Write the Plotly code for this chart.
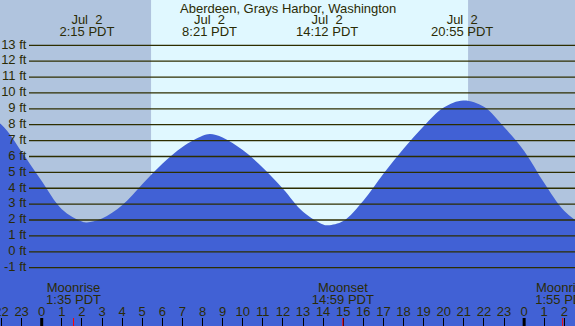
import plotly.graph_objects as go

# ---- data (hours after Jul 2 00:00 PDT, height in ft) ----
tide_hours = [-3, -2, -1, 0, 1, 2, 2.25, 3, 4, 5, 6, 7, 8, 8.37, 9, 10, 11, 12, 13, 14, 14.25,
              15, 16, 17, 18, 19, 20, 20.97, 22, 23, 24, 25, 26, 27]
tide_ft = [8.7, 8.0, 6.3, 4.45, 2.68, 1.9, 1.85, 2.1, 2.93, 4.25, 5.54, 6.6, 7.3, 7.42, 7.2,
           6.4, 5.29, 3.97, 2.52, 1.72, 1.67, 1.94, 3.22, 4.92, 6.48, 7.9, 9.08, 9.53, 9.13,
           7.85, 6.35, 4.33, 2.57, 1.6]

extreme_hours = [2.25, 8.35, 14.2, 20.917, 27.4]
extreme_dates = ["Jul  2", "Jul  2", "Jul  2", "Jul  2", "Jul  3"]
extreme_times = ["2:15 PDT", "8:21 PDT", "14:12 PDT", "20:55 PDT", "3:24 PDT"]

sunrise_hour = 5.44
sunset_hour = 21.21

moon_hours = [1.583, 14.983, 25.917]
moon_events = ["Moonrise", "Moonset", "Moonrise"]
moon_times = ["1:35 PDT", "14:59 PDT", "1:55 PDT"]

ft_ticks = list(range(-1, 14))
ft_labels = [f"{v} ft" for v in ft_ticks]
hour_ticks = list(range(-2, 27))
hour_labels = [str(h % 24) for h in hour_ticks]
midnight_hours = [0, 24]

title = "Aberdeen, Grays Harbor, Washington"

# ---- styling ----
X_RANGE = [-2.075, 26.53]
Y_RANGE = [-4.671, 15.85]
NIGHT = "#B0C4DE"
DAY = "#E0F8FF"
WATER = "rgb(65,97,213)"
INK = "#2b2b05"
FONT = "Liberation Sans, Arial, sans-serif"

fig = go.Figure()

# baseline for the fill
fig.add_trace(go.Scatter(x=tide_hours, y=[Y_RANGE[0] - 1] * len(tide_hours), mode="lines",
                         line=dict(width=0), hoverinfo="skip", showlegend=False))
fig.add_trace(go.Scatter(x=tide_hours, y=tide_ft, mode="lines", line=dict(width=0, shape="spline"),
                         fill="tonexty", fillcolor=WATER, hoverinfo="skip", showlegend=False))

# night shading
for x0, x1 in [(X_RANGE[0] - 1, sunrise_hour), (sunset_hour, X_RANGE[1] + 1)]:
    fig.add_shape(type="rect", xref="x", yref="paper", x0=x0, x1=x1, y0=0, y1=1,
                  fillcolor=NIGHT, line=dict(width=0), layer="below")

# horizontal ft lines starting after the labels
gx0 = -0.632
for v in ft_ticks:
    fig.add_shape(type="line", xref="x", yref="y", x0=gx0, x1=X_RANGE[1] + 1, y0=v, y1=v,
                  line=dict(color="#2e2e00", width=1.3), layer="above")

txt = dict(family=FONT, size=13, color=INK)

# ft labels
fig.add_trace(go.Scatter(x=[-0.76] * len(ft_ticks), y=ft_ticks, mode="text", text=ft_labels,
                         textposition="middle left", textfont=txt,
                         hoverinfo="skip", showlegend=False, cliponaxis=False))

# extreme labels at top
fig.add_trace(go.Scatter(x=extreme_hours, y=[14.55] * len(extreme_hours), mode="text",
                         text=extreme_dates, textposition="middle center", textfont=txt,
                         hoverinfo="skip", showlegend=False, cliponaxis=False))
fig.add_trace(go.Scatter(x=extreme_hours, y=[13.77] * len(extreme_hours), mode="text",
                         text=extreme_times, textposition="middle center", textfont=txt,
                         hoverinfo="skip", showlegend=False, cliponaxis=False))

# moon labels
fig.add_trace(go.Scatter(x=moon_hours, y=[-2.31] * len(moon_hours), mode="text",
                         text=moon_events, textposition="middle center", textfont=txt,
                         hoverinfo="skip", showlegend=False, cliponaxis=False))
fig.add_trace(go.Scatter(x=moon_hours, y=[-3.07] * len(moon_hours), mode="text",
                         text=moon_times, textposition="middle center", textfont=txt,
                         hoverinfo="skip", showlegend=False, cliponaxis=False))

# hour labels
fig.add_trace(go.Scatter(x=hour_ticks, y=[-3.86] * len(hour_ticks), mode="text",
                         text=hour_labels, textposition="middle center", textfont=txt,
                         hoverinfo="skip", showlegend=False, cliponaxis=False))

# special ticks
tick_h = 8 / 326
for h in midnight_hours:
    fig.add_shape(type="line", xref="x", yref="paper", x0=h, x1=h, y0=0, y1=tick_h,
                  line=dict(color="black", width=3), layer="above")
for h in moon_hours:
    fig.add_shape(type="line", xref="x", yref="paper", x0=h, x1=h, y0=0, y1=tick_h,
                  line=dict(color="red", width=1), layer="above")

fig.add_annotation(text=title, xref="paper", yref="y", x=0.5, y=15.3, showarrow=False,
                   font=txt, xanchor="center", yanchor="middle")

fig.update_xaxes(range=X_RANGE, showgrid=False, zeroline=False, showticklabels=False,
                 tickmode="array", tickvals=hour_ticks, ticks="inside", ticklen=8,
                 tickwidth=1, tickcolor="black", showline=False)
fig.update_yaxes(range=Y_RANGE, showgrid=False, zeroline=False, showticklabels=False)

fig.update_layout(width=575, height=326, margin=dict(l=0, r=0, t=0, b=0),
                  plot_bgcolor=DAY, paper_bgcolor=DAY, showlegend=False)

fig.write_html("out.html", config={"displayModeBar": False},
               post_script="document.body.style.margin='0';document.body.style.padding='0';"
                           "document.body.style.overflow='hidden';")
